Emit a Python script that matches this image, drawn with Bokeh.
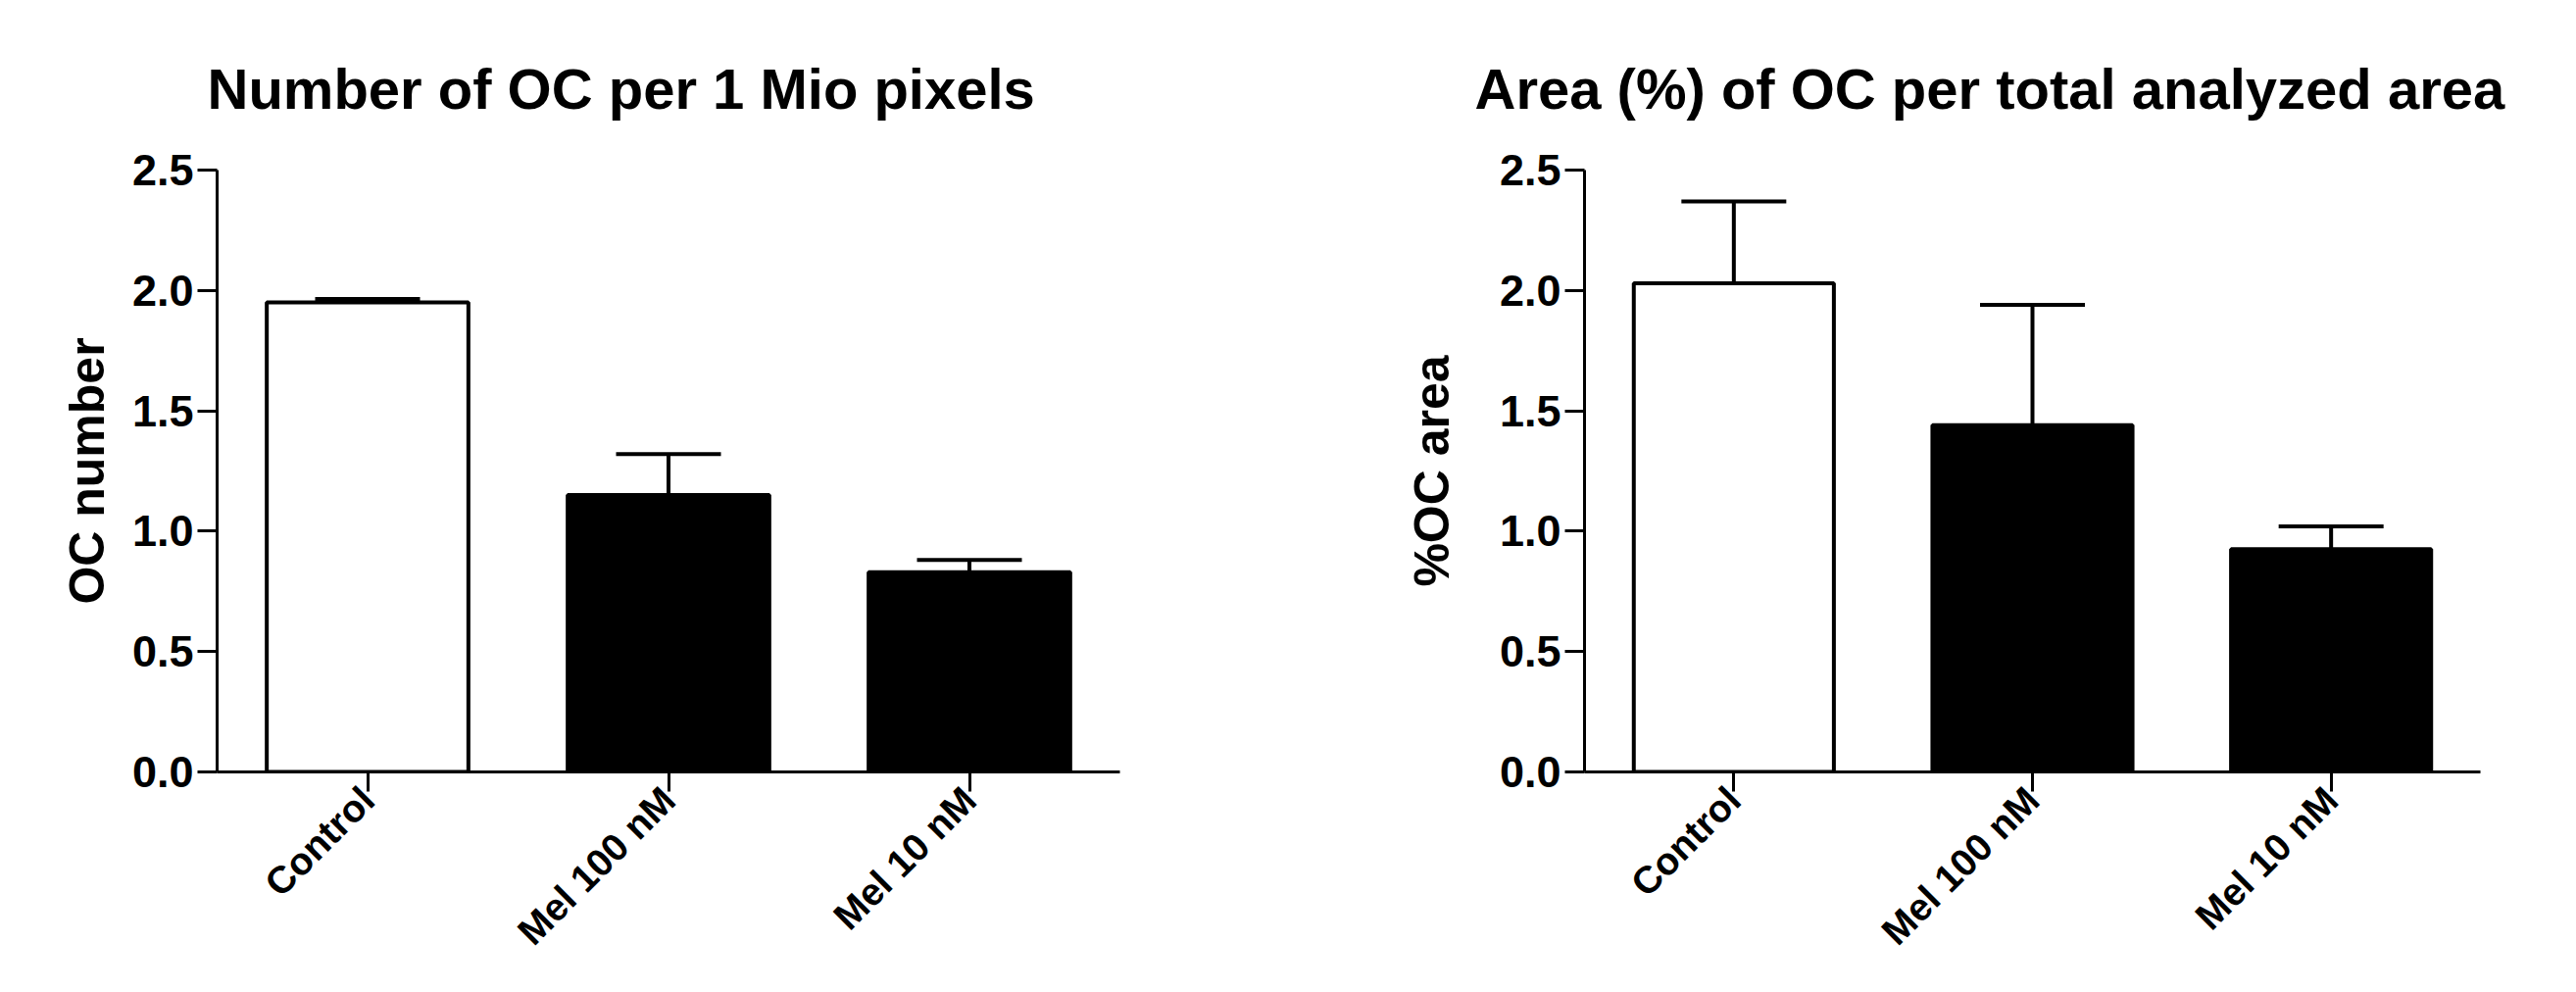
import math
from bokeh.plotting import figure
from bokeh.models import (Range1d, FactorRange, ColumnDataSource, Whisker, TeeHead,
                          FixedTicker, PrintfTickFormatter)
from bokeh.layouts import row
from bokeh.embed import file_html
from bokeh.resources import INLINE

categories = ["Control", "Mel 100 nM", "Mel 10 nM"]
oc_number_mean = [1.95, 1.15, 0.83]
oc_number_sem = [0.015, 0.17, 0.05]
oc_area_mean = [2.03, 1.44, 0.925]
oc_area_sem = [0.34, 0.50, 0.095]
bar_fill = ["white", "black", "black"]
y_ticks = [0.0, 0.5, 1.0, 1.5, 2.0, 2.5]

FONT = "Liberation Sans"


def make(title, ylabel, means, sems, border_left, border_right, title_offset, label_standoff):
    src = ColumnDataSource(dict(
        cat=categories,
        top=means,
        upper=[m + s for m, s in zip(means, sems)],
        fill=bar_fill,
    ))
    p = figure(x_range=FactorRange(*categories), y_range=Range1d(0, 2.5),
               width=1306, height=1004, output_backend="svg", toolbar_location=None,
               min_border_left=border_left, min_border_right=border_right,
               min_border_top=173, min_border_bottom=217)
    p.vbar(x="cat", top="top", width=0.67, source=src, fill_color="fill",
           line_color="black", line_width=4)
    w = Whisker(base="cat", lower="top", upper="upper", source=src,
                line_width=4, line_color="black",
                upper_head=TeeHead(size=107, line_width=4, line_color="black"),
                lower_head=None)
    p.add_layout(w)

    p.title.text = title
    p.title.text_font = FONT
    p.title.text_font_size = "58px"
    p.title.text_font_style = "bold"
    p.title.text_color = "black"
    p.title.align = "left"
    p.title.offset = title_offset
    p.title.standoff = 102

    p.xgrid.grid_line_color = None
    p.ygrid.grid_line_color = None
    p.outline_line_color = None

    for ax in (p.xaxis, p.yaxis):
        ax.axis_line_width = 3
        ax.major_tick_line_width = 3
        ax.major_tick_out = 20
        ax.major_tick_in = 0
        ax.minor_tick_line_color = None
        ax.major_label_text_font = FONT
        ax.major_label_text_font_style = "bold"
        ax.major_label_text_color = "black"
        ax.axis_line_color = "black"
        ax.major_tick_line_color = "black"

    p.xaxis.major_label_text_font_size = "39px"
    p.xaxis.major_label_orientation = math.pi / 4
    p.xaxis.major_label_standoff = 2

    p.yaxis.ticker = FixedTicker(ticks=y_ticks)
    p.yaxis.formatter = PrintfTickFormatter(format="%.1f")
    p.yaxis.major_label_text_font_size = "45px"
    p.yaxis.major_label_standoff = 4
    p.yaxis.axis_label = ylabel
    p.yaxis.axis_label_text_font = FONT
    p.yaxis.axis_label_text_font_size = "50px"
    p.yaxis.axis_label_text_font_style = "bold"
    p.yaxis.axis_label_text_color = "black"
    p.yaxis.axis_label_standoff = label_standoff
    return p


p1 = make("Number of OC per 1 Mio pixels", "OC number", oc_number_mean, oc_number_sem,
          221, 164, -10, 15)
p2 = make("Area (%) of OC per total analyzed area", "%OC area", oc_area_mean, oc_area_sem,
          310, 82, -112, 38)

layout = row(p1, p2)
open("out.html", "w").write(file_html(layout, INLINE))
